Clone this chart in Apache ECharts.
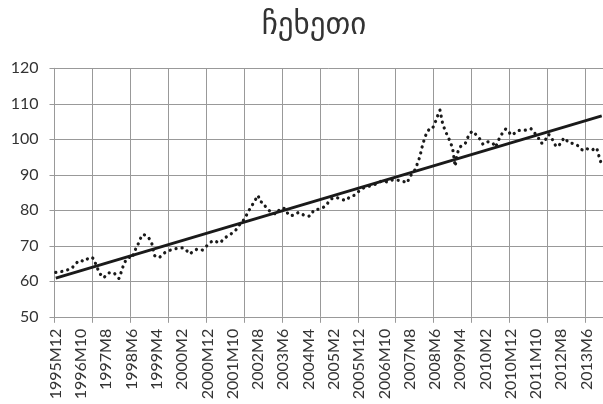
<!DOCTYPE html>
<html>
<head>
<meta charset="utf-8">
<script src="https://cdn.jsdelivr.net/npm/echarts@6/dist/echarts.min.js"></script>
<style>html,body{margin:0;padding:0;background:#fff}#c{width:603px;height:404px}</style>
</head>
<body>
<div id="c"></div>
<script>
const titleText = 'ჩეხეთი';
const firstYear = 1995, firstMonth = 12;
const values = [
62.5,62.6,62.7,62.9,63.1,63.3,63.5,64.2,65.0,65.8,
65.9,65.6,66.0,66.6,66.8,66.4,64.5,62.8,61.6,61.0,
61.8,62.4,62.4,62.4,61.6,60.8,62.8,65.0,66.2,66.8,
66.5,68.0,69.8,71.0,73.0,73.1,72.8,72.0,70.6,67.3,
66.8,66.7,67.4,68.0,68.4,68.7,68.9,69.1,69.3,69.3,
69.4,69.3,68.5,67.7,68.2,68.7,69.1,69.0,68.8,69.4,
70.2,70.8,71.4,71.4,71.0,70.8,71.6,72.3,72.7,73.1,
73.8,74.2,75.2,76.2,77.0,77.9,79.5,80.6,81.8,83.0,
84.2,82.4,82.2,81.0,80.2,79.6,79.3,78.9,79.8,80.5,
80.6,80.3,78.7,78.5,78.6,79.0,79.4,79.1,78.7,78.5,
78.3,78.6,80.0,80.2,80.3,80.5,80.9,81.3,82.5,83.2,
83.5,83.6,83.4,83.1,82.9,82.8,83.6,84.0,84.2,84.8,
85.4,85.9,86.4,86.6,86.8,87.0,87.2,87.5,87.9,88.3,
88.2,88.0,88.2,88.5,88.6,88.5,88.4,88.3,88.0,87.7,
89.3,90.4,91.3,93.0,95.0,98.0,100.5,102.2,103.0,103.0,
104.5,106.5,108.2,104.6,102.5,101.0,99.4,97.5,92.4,96.3,
97.9,98.3,98.8,100.5,101.8,102.3,101.5,100.8,99.9,98.6,
98.8,99.3,99.2,98.8,97.8,99.5,101.0,102.0,102.9,102.5,
101.2,101.4,102.0,102.5,102.5,102.5,102.6,102.9,103.0,102.3,
101.2,100.3,98.9,99.0,100.2,101.4,100.6,99.2,97.9,98.3,
99.0,100.4,99.8,99.0,98.9,98.8,98.5,97.9,97.1,96.9,
97.4,97.1,96.9,97.3,97.6,95.0,92.7
];
const trendStart = 60.9;
const trendEnd = 106.6;
const yTicks = [50, 60, 70, 80, 90, 100, 110, 120];

const categories = [];
for (let k = 0; k < values.length; k++) {
  const t = (firstMonth - 1) + k;
  categories.push((firstYear + Math.floor(t / 12)) + 'M' + ((t % 12) + 1));
}
const trendData = [[categories[0], trendStart], [categories[categories.length - 1], trendEnd]];

const chart = echarts.init(document.getElementById('c'), null, {renderer: 'canvas'});
const grid = '#999999';
chart.setOption({
  animation: false,
  backgroundColor: '#ffffff',
  title: {
    text: titleText,
    left: 309, top: 5, textAlign: 'center',
    textStyle: {fontFamily: 'DejaVu Sans', fontSize: 31, fontWeight: 'normal', color: '#333'}
  },
  grid: {left: 54.5, top: 68.3, width: 549, height: 248.5, containLabel: false},
  xAxis: {
    type: 'category',
    data: categories,
    boundaryGap: true,
    axisLine: {show: true, lineStyle: {color: grid, width: 1}},
    axisTick: {show: true, interval: 14, length: 6, lineStyle: {color: grid, width: 1}},
    splitLine: {show: true, interval: 14, lineStyle: {color: grid, width: 1}},
    axisLabel: {interval: 9, rotate: 90, margin: 12, fontFamily: 'Lato', fontSize: 16, color: '#333'}
  },
  yAxis: {
    type: 'value',
    min: yTicks[0], max: yTicks[yTicks.length - 1], interval: 10,
    axisLine: {show: true, lineStyle: {color: grid, width: 1}},
    axisTick: {show: true, length: 5, lineStyle: {color: grid, width: 1}},
    splitLine: {show: true, lineStyle: {color: grid, width: 1}},
    axisLabel: {margin: 16, fontFamily: 'Lato', fontSize: 16, color: '#333'}
  },
  series: [
    {
      type: 'line', data: values, symbol: 'none', smooth: false,
      lineStyle: {color: '#1a1a1a', width: 3.2, type: [0.1, 6], cap: 'round'},
      z: 2
    },
    {
      type: 'line', data: trendData, symbol: 'none', connectNulls: true,
      lineStyle: {color: '#1a1a1a', width: 3, type: 'solid'},
      z: 3
    }
  ]
});
</script>
</body>
</html>
